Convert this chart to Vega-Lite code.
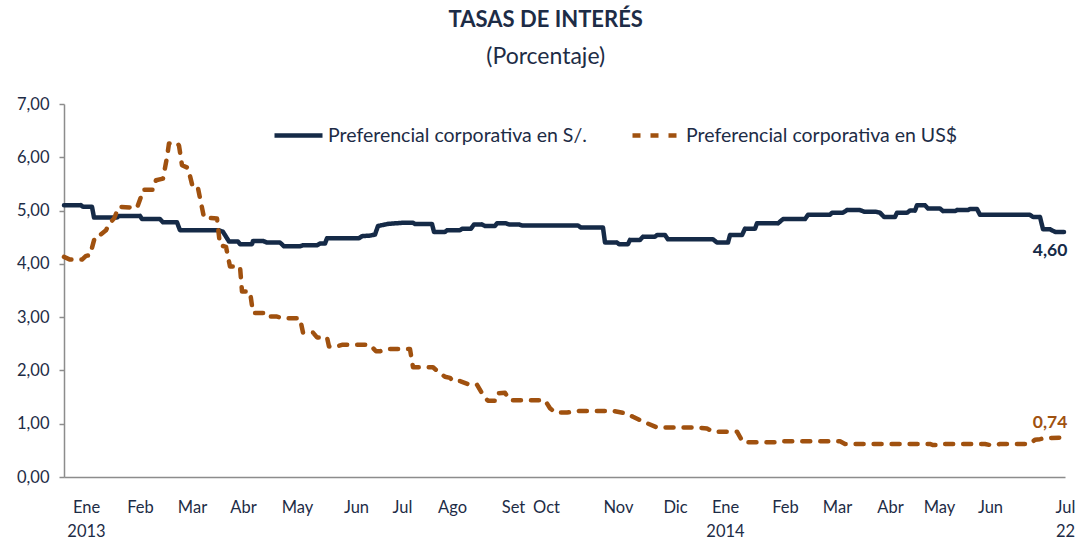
{
  "$schema": "https://vega.github.io/schema/vega-lite/v6.json",
  "width": 1001,
  "height": 373,
  "autosize": {"type": "none"},
  "padding": {"left": 64, "top": 104, "right": 16, "bottom": 65},
  "background": "white",
  "config": {
    "locale": {"number": {"decimal": ",", "thousands": ".", "grouping": [3], "currency": ["", ""]}},
    "font": "Lato",
    "view": {"stroke": null}
  },
  "title": {
    "text": "TASAS DE INTERÉS",
    "subtitle": "(Porcentaje)",
    "anchor": "middle",
    "frame": "bounds",
    "fontSize": 22,
    "fontWeight": "bold",
    "color": "#1d2c46",
    "subtitleFontSize": 23,
    "subtitleColor": "#1d2c46",
    "subtitlePadding": 14,
    "offset": 26
  },
  "datasets": {
    "tasas": [
      {"t": 0, "serie": "Preferencial corporativa en S/.", "tasa": 5.10},
      {"t": 1.7, "serie": "Preferencial corporativa en S/.", "tasa": 5.10},
      {"t": 1.9, "serie": "Preferencial corporativa en S/.", "tasa": 5.07},
      {"t": 2.8, "serie": "Preferencial corporativa en S/.", "tasa": 5.07},
      {"t": 3.0, "serie": "Preferencial corporativa en S/.", "tasa": 4.87},
      {"t": 5.3, "serie": "Preferencial corporativa en S/.", "tasa": 4.87},
      {"t": 5.5, "serie": "Preferencial corporativa en S/.", "tasa": 4.90},
      {"t": 7.6, "serie": "Preferencial corporativa en S/.", "tasa": 4.90},
      {"t": 7.8, "serie": "Preferencial corporativa en S/.", "tasa": 4.84},
      {"t": 9.6, "serie": "Preferencial corporativa en S/.", "tasa": 4.84},
      {"t": 9.9, "serie": "Preferencial corporativa en S/.", "tasa": 4.78},
      {"t": 11.3, "serie": "Preferencial corporativa en S/.", "tasa": 4.78},
      {"t": 11.6, "serie": "Preferencial corporativa en S/.", "tasa": 4.63},
      {"t": 15.5, "serie": "Preferencial corporativa en S/.", "tasa": 4.63},
      {"t": 15.9, "serie": "Preferencial corporativa en S/.", "tasa": 4.60},
      {"t": 16.5, "serie": "Preferencial corporativa en S/.", "tasa": 4.42},
      {"t": 17.4, "serie": "Preferencial corporativa en S/.", "tasa": 4.42},
      {"t": 17.6, "serie": "Preferencial corporativa en S/.", "tasa": 4.37},
      {"t": 18.8, "serie": "Preferencial corporativa en S/.", "tasa": 4.37},
      {"t": 18.9, "serie": "Preferencial corporativa en S/.", "tasa": 4.43},
      {"t": 19.9, "serie": "Preferencial corporativa en S/.", "tasa": 4.43},
      {"t": 20.3, "serie": "Preferencial corporativa en S/.", "tasa": 4.40},
      {"t": 21.6, "serie": "Preferencial corporativa en S/.", "tasa": 4.40},
      {"t": 22.0, "serie": "Preferencial corporativa en S/.", "tasa": 4.33},
      {"t": 23.6, "serie": "Preferencial corporativa en S/.", "tasa": 4.33},
      {"t": 23.9, "serie": "Preferencial corporativa en S/.", "tasa": 4.35},
      {"t": 25.3, "serie": "Preferencial corporativa en S/.", "tasa": 4.35},
      {"t": 25.6, "serie": "Preferencial corporativa en S/.", "tasa": 4.38},
      {"t": 26.1, "serie": "Preferencial corporativa en S/.", "tasa": 4.38},
      {"t": 26.3, "serie": "Preferencial corporativa en S/.", "tasa": 4.48},
      {"t": 29.5, "serie": "Preferencial corporativa en S/.", "tasa": 4.48},
      {"t": 29.8, "serie": "Preferencial corporativa en S/.", "tasa": 4.52},
      {"t": 30.6, "serie": "Preferencial corporativa en S/.", "tasa": 4.53},
      {"t": 31.1, "serie": "Preferencial corporativa en S/.", "tasa": 4.55},
      {"t": 31.4, "serie": "Preferencial corporativa en S/.", "tasa": 4.71},
      {"t": 32.4, "serie": "Preferencial corporativa en S/.", "tasa": 4.75},
      {"t": 33.8, "serie": "Preferencial corporativa en S/.", "tasa": 4.77},
      {"t": 34.9, "serie": "Preferencial corporativa en S/.", "tasa": 4.77},
      {"t": 35.1, "serie": "Preferencial corporativa en S/.", "tasa": 4.75},
      {"t": 36.8, "serie": "Preferencial corporativa en S/.", "tasa": 4.75},
      {"t": 37.0, "serie": "Preferencial corporativa en S/.", "tasa": 4.60},
      {"t": 38.1, "serie": "Preferencial corporativa en S/.", "tasa": 4.60},
      {"t": 38.3, "serie": "Preferencial corporativa en S/.", "tasa": 4.63},
      {"t": 39.6, "serie": "Preferencial corporativa en S/.", "tasa": 4.63},
      {"t": 39.8, "serie": "Preferencial corporativa en S/.", "tasa": 4.66},
      {"t": 40.7, "serie": "Preferencial corporativa en S/.", "tasa": 4.66},
      {"t": 41.0, "serie": "Preferencial corporativa en S/.", "tasa": 4.74},
      {"t": 41.8, "serie": "Preferencial corporativa en S/.", "tasa": 4.74},
      {"t": 42.1, "serie": "Preferencial corporativa en S/.", "tasa": 4.71},
      {"t": 43.1, "serie": "Preferencial corporativa en S/.", "tasa": 4.71},
      {"t": 43.3, "serie": "Preferencial corporativa en S/.", "tasa": 4.76},
      {"t": 44.2, "serie": "Preferencial corporativa en S/.", "tasa": 4.76},
      {"t": 44.5, "serie": "Preferencial corporativa en S/.", "tasa": 4.74},
      {"t": 45.5, "serie": "Preferencial corporativa en S/.", "tasa": 4.74},
      {"t": 45.8, "serie": "Preferencial corporativa en S/.", "tasa": 4.72},
      {"t": 51.4, "serie": "Preferencial corporativa en S/.", "tasa": 4.72},
      {"t": 51.7, "serie": "Preferencial corporativa en S/.", "tasa": 4.68},
      {"t": 53.9, "serie": "Preferencial corporativa en S/.", "tasa": 4.68},
      {"t": 54.1, "serie": "Preferencial corporativa en S/.", "tasa": 4.40},
      {"t": 55.3, "serie": "Preferencial corporativa en S/.", "tasa": 4.40},
      {"t": 55.5, "serie": "Preferencial corporativa en S/.", "tasa": 4.37},
      {"t": 56.4, "serie": "Preferencial corporativa en S/.", "tasa": 4.37},
      {"t": 56.6, "serie": "Preferencial corporativa en S/.", "tasa": 4.45},
      {"t": 57.6, "serie": "Preferencial corporativa en S/.", "tasa": 4.45},
      {"t": 57.9, "serie": "Preferencial corporativa en S/.", "tasa": 4.51},
      {"t": 59.1, "serie": "Preferencial corporativa en S/.", "tasa": 4.51},
      {"t": 59.3, "serie": "Preferencial corporativa en S/.", "tasa": 4.54},
      {"t": 60.1, "serie": "Preferencial corporativa en S/.", "tasa": 4.54},
      {"t": 60.4, "serie": "Preferencial corporativa en S/.", "tasa": 4.46},
      {"t": 64.9, "serie": "Preferencial corporativa en S/.", "tasa": 4.46},
      {"t": 65.3, "serie": "Preferencial corporativa en S/.", "tasa": 4.40},
      {"t": 66.4, "serie": "Preferencial corporativa en S/.", "tasa": 4.40},
      {"t": 66.6, "serie": "Preferencial corporativa en S/.", "tasa": 4.54},
      {"t": 67.8, "serie": "Preferencial corporativa en S/.", "tasa": 4.54},
      {"t": 68.1, "serie": "Preferencial corporativa en S/.", "tasa": 4.66},
      {"t": 69.1, "serie": "Preferencial corporativa en S/.", "tasa": 4.66},
      {"t": 69.3, "serie": "Preferencial corporativa en S/.", "tasa": 4.76},
      {"t": 71.4, "serie": "Preferencial corporativa en S/.", "tasa": 4.76},
      {"t": 71.9, "serie": "Preferencial corporativa en S/.", "tasa": 4.84},
      {"t": 74.1, "serie": "Preferencial corporativa en S/.", "tasa": 4.84},
      {"t": 74.4, "serie": "Preferencial corporativa en S/.", "tasa": 4.92},
      {"t": 76.6, "serie": "Preferencial corporativa en S/.", "tasa": 4.92},
      {"t": 76.8, "serie": "Preferencial corporativa en S/.", "tasa": 4.96},
      {"t": 77.9, "serie": "Preferencial corporativa en S/.", "tasa": 4.96},
      {"t": 78.3, "serie": "Preferencial corporativa en S/.", "tasa": 5.01},
      {"t": 79.6, "serie": "Preferencial corporativa en S/.", "tasa": 5.01},
      {"t": 80.0, "serie": "Preferencial corporativa en S/.", "tasa": 4.98},
      {"t": 81.1, "serie": "Preferencial corporativa en S/.", "tasa": 4.98},
      {"t": 81.6, "serie": "Preferencial corporativa en S/.", "tasa": 4.96},
      {"t": 82.0, "serie": "Preferencial corporativa en S/.", "tasa": 4.88},
      {"t": 83.1, "serie": "Preferencial corporativa en S/.", "tasa": 4.88},
      {"t": 83.3, "serie": "Preferencial corporativa en S/.", "tasa": 4.96},
      {"t": 84.3, "serie": "Preferencial corporativa en S/.", "tasa": 4.96},
      {"t": 84.6, "serie": "Preferencial corporativa en S/.", "tasa": 5.00},
      {"t": 85.1, "serie": "Preferencial corporativa en S/.", "tasa": 5.00},
      {"t": 85.3, "serie": "Preferencial corporativa en S/.", "tasa": 5.10},
      {"t": 86.1, "serie": "Preferencial corporativa en S/.", "tasa": 5.10},
      {"t": 86.4, "serie": "Preferencial corporativa en S/.", "tasa": 5.04},
      {"t": 87.6, "serie": "Preferencial corporativa en S/.", "tasa": 5.04},
      {"t": 87.9, "serie": "Preferencial corporativa en S/.", "tasa": 4.99},
      {"t": 89.1, "serie": "Preferencial corporativa en S/.", "tasa": 4.99},
      {"t": 89.3, "serie": "Preferencial corporativa en S/.", "tasa": 5.01},
      {"t": 90.4, "serie": "Preferencial corporativa en S/.", "tasa": 5.01},
      {"t": 90.6, "serie": "Preferencial corporativa en S/.", "tasa": 5.03},
      {"t": 91.3, "serie": "Preferencial corporativa en S/.", "tasa": 5.03},
      {"t": 91.6, "serie": "Preferencial corporativa en S/.", "tasa": 4.92},
      {"t": 96.6, "serie": "Preferencial corporativa en S/.", "tasa": 4.92},
      {"t": 96.9, "serie": "Preferencial corporativa en S/.", "tasa": 4.88},
      {"t": 97.6, "serie": "Preferencial corporativa en S/.", "tasa": 4.88},
      {"t": 97.9, "serie": "Preferencial corporativa en S/.", "tasa": 4.65},
      {"t": 98.6, "serie": "Preferencial corporativa en S/.", "tasa": 4.65},
      {"t": 99.1, "serie": "Preferencial corporativa en S/.", "tasa": 4.60},
      {"t": 100, "serie": "Preferencial corporativa en S/.", "tasa": 4.60},

      {"t": 0, "serie": "Preferencial corporativa en US$", "tasa": 4.13},
      {"t": 0.6, "serie": "Preferencial corporativa en US$", "tasa": 4.08},
      {"t": 1.8, "serie": "Preferencial corporativa en US$", "tasa": 4.08},
      {"t": 2.2, "serie": "Preferencial corporativa en US$", "tasa": 4.15},
      {"t": 2.6, "serie": "Preferencial corporativa en US$", "tasa": 4.16},
      {"t": 3.1, "serie": "Preferencial corporativa en US$", "tasa": 4.51},
      {"t": 3.6, "serie": "Preferencial corporativa en US$", "tasa": 4.54},
      {"t": 4.2, "serie": "Preferencial corporativa en US$", "tasa": 4.63},
      {"t": 4.5, "serie": "Preferencial corporativa en US$", "tasa": 4.75},
      {"t": 5.0, "serie": "Preferencial corporativa en US$", "tasa": 4.85},
      {"t": 5.5, "serie": "Preferencial corporativa en US$", "tasa": 5.07},
      {"t": 7.3, "serie": "Preferencial corporativa en US$", "tasa": 5.05},
      {"t": 7.7, "serie": "Preferencial corporativa en US$", "tasa": 5.26},
      {"t": 7.9, "serie": "Preferencial corporativa en US$", "tasa": 5.39},
      {"t": 8.9, "serie": "Preferencial corporativa en US$", "tasa": 5.39},
      {"t": 9.2, "serie": "Preferencial corporativa en US$", "tasa": 5.57},
      {"t": 9.9, "serie": "Preferencial corporativa en US$", "tasa": 5.60},
      {"t": 10.3, "serie": "Preferencial corporativa en US$", "tasa": 6.00},
      {"t": 10.5, "serie": "Preferencial corporativa en US$", "tasa": 6.26},
      {"t": 11.3, "serie": "Preferencial corporativa en US$", "tasa": 6.27},
      {"t": 11.5, "serie": "Preferencial corporativa en US$", "tasa": 6.22},
      {"t": 11.8, "serie": "Preferencial corporativa en US$", "tasa": 5.85},
      {"t": 12.4, "serie": "Preferencial corporativa en US$", "tasa": 5.80},
      {"t": 12.9, "serie": "Preferencial corporativa en US$", "tasa": 5.42},
      {"t": 13.4, "serie": "Preferencial corporativa en US$", "tasa": 5.42},
      {"t": 14.0, "serie": "Preferencial corporativa en US$", "tasa": 4.87},
      {"t": 15.3, "serie": "Preferencial corporativa en US$", "tasa": 4.85},
      {"t": 15.6, "serie": "Preferencial corporativa en US$", "tasa": 4.35},
      {"t": 16.2, "serie": "Preferencial corporativa en US$", "tasa": 4.32},
      {"t": 16.6, "serie": "Preferencial corporativa en US$", "tasa": 3.95},
      {"t": 17.6, "serie": "Preferencial corporativa en US$", "tasa": 3.95},
      {"t": 17.8, "serie": "Preferencial corporativa en US$", "tasa": 3.48},
      {"t": 18.6, "serie": "Preferencial corporativa en US$", "tasa": 3.48},
      {"t": 18.9, "serie": "Preferencial corporativa en US$", "tasa": 3.08},
      {"t": 20.1, "serie": "Preferencial corporativa en US$", "tasa": 3.08},
      {"t": 20.3, "serie": "Preferencial corporativa en US$", "tasa": 3.01},
      {"t": 21.3, "serie": "Preferencial corporativa en US$", "tasa": 3.01},
      {"t": 21.9, "serie": "Preferencial corporativa en US$", "tasa": 2.98},
      {"t": 23.6, "serie": "Preferencial corporativa en US$", "tasa": 2.98},
      {"t": 23.9, "serie": "Preferencial corporativa en US$", "tasa": 2.71},
      {"t": 24.9, "serie": "Preferencial corporativa en US$", "tasa": 2.71},
      {"t": 25.3, "serie": "Preferencial corporativa en US$", "tasa": 2.62},
      {"t": 26.3, "serie": "Preferencial corporativa en US$", "tasa": 2.62},
      {"t": 26.5, "serie": "Preferencial corporativa en US$", "tasa": 2.45},
      {"t": 27.3, "serie": "Preferencial corporativa en US$", "tasa": 2.45},
      {"t": 27.8, "serie": "Preferencial corporativa en US$", "tasa": 2.48},
      {"t": 30.6, "serie": "Preferencial corporativa en US$", "tasa": 2.48},
      {"t": 31.2, "serie": "Preferencial corporativa en US$", "tasa": 2.36},
      {"t": 31.6, "serie": "Preferencial corporativa en US$", "tasa": 2.36},
      {"t": 32.3, "serie": "Preferencial corporativa en US$", "tasa": 2.40},
      {"t": 34.6, "serie": "Preferencial corporativa en US$", "tasa": 2.40},
      {"t": 34.9, "serie": "Preferencial corporativa en US$", "tasa": 2.06},
      {"t": 36.9, "serie": "Preferencial corporativa en US$", "tasa": 2.06},
      {"t": 37.2, "serie": "Preferencial corporativa en US$", "tasa": 2.01},
      {"t": 38.1, "serie": "Preferencial corporativa en US$", "tasa": 1.88},
      {"t": 38.6, "serie": "Preferencial corporativa en US$", "tasa": 1.86},
      {"t": 38.9, "serie": "Preferencial corporativa en US$", "tasa": 1.80},
      {"t": 39.6, "serie": "Preferencial corporativa en US$", "tasa": 1.80},
      {"t": 40.6, "serie": "Preferencial corporativa en US$", "tasa": 1.73},
      {"t": 41.3, "serie": "Preferencial corporativa en US$", "tasa": 1.73},
      {"t": 42.0, "serie": "Preferencial corporativa en US$", "tasa": 1.51},
      {"t": 42.4, "serie": "Preferencial corporativa en US$", "tasa": 1.43},
      {"t": 43.1, "serie": "Preferencial corporativa en US$", "tasa": 1.43},
      {"t": 43.3, "serie": "Preferencial corporativa en US$", "tasa": 1.57},
      {"t": 44.1, "serie": "Preferencial corporativa en US$", "tasa": 1.58},
      {"t": 44.6, "serie": "Preferencial corporativa en US$", "tasa": 1.44},
      {"t": 48.1, "serie": "Preferencial corporativa en US$", "tasa": 1.44},
      {"t": 48.6, "serie": "Preferencial corporativa en US$", "tasa": 1.29},
      {"t": 49.1, "serie": "Preferencial corporativa en US$", "tasa": 1.21},
      {"t": 50.3, "serie": "Preferencial corporativa en US$", "tasa": 1.21},
      {"t": 51.6, "serie": "Preferencial corporativa en US$", "tasa": 1.24},
      {"t": 54.9, "serie": "Preferencial corporativa en US$", "tasa": 1.24},
      {"t": 56.3, "serie": "Preferencial corporativa en US$", "tasa": 1.19},
      {"t": 56.9, "serie": "Preferencial corporativa en US$", "tasa": 1.13},
      {"t": 57.9, "serie": "Preferencial corporativa en US$", "tasa": 1.04},
      {"t": 59.3, "serie": "Preferencial corporativa en US$", "tasa": 0.93},
      {"t": 63.3, "serie": "Preferencial corporativa en US$", "tasa": 0.93},
      {"t": 64.3, "serie": "Preferencial corporativa en US$", "tasa": 0.91},
      {"t": 64.9, "serie": "Preferencial corporativa en US$", "tasa": 0.85},
      {"t": 67.3, "serie": "Preferencial corporativa en US$", "tasa": 0.85},
      {"t": 67.9, "serie": "Preferencial corporativa en US$", "tasa": 0.65},
      {"t": 71.3, "serie": "Preferencial corporativa en US$", "tasa": 0.65},
      {"t": 71.6, "serie": "Preferencial corporativa en US$", "tasa": 0.67},
      {"t": 77.6, "serie": "Preferencial corporativa en US$", "tasa": 0.67},
      {"t": 78.1, "serie": "Preferencial corporativa en US$", "tasa": 0.62},
      {"t": 86.6, "serie": "Preferencial corporativa en US$", "tasa": 0.62},
      {"t": 86.9, "serie": "Preferencial corporativa en US$", "tasa": 0.60},
      {"t": 87.4, "serie": "Preferencial corporativa en US$", "tasa": 0.60},
      {"t": 87.6, "serie": "Preferencial corporativa en US$", "tasa": 0.62},
      {"t": 92.1, "serie": "Preferencial corporativa en US$", "tasa": 0.62},
      {"t": 92.6, "serie": "Preferencial corporativa en US$", "tasa": 0.60},
      {"t": 93.1, "serie": "Preferencial corporativa en US$", "tasa": 0.60},
      {"t": 93.6, "serie": "Preferencial corporativa en US$", "tasa": 0.62},
      {"t": 96.6, "serie": "Preferencial corporativa en US$", "tasa": 0.62},
      {"t": 97.1, "serie": "Preferencial corporativa en US$", "tasa": 0.70},
      {"t": 97.6, "serie": "Preferencial corporativa en US$", "tasa": 0.71},
      {"t": 98.1, "serie": "Preferencial corporativa en US$", "tasa": 0.73},
      {"t": 100, "serie": "Preferencial corporativa en US$", "tasa": 0.74}
    ]
  },
  "data": {"name": "tasas"},
  "encoding": {
    "x": {
      "field": "t",
      "type": "quantitative",
      "scale": {"domain": [0, 100.1], "nice": false, "zero": false},
      "axis": {
        "title": null,
        "grid": false,
        "ticks": false,
        "values": [2.2, 7.6, 12.8, 17.9, 23.3, 29.2, 33.8, 38.8, 44.9, 48.2, 55.4, 61.1, 66.1, 72.1, 77.3, 82.6, 87.5, 92.6, 100.1],
        "labelExpr": "[['Ene','2013'],'Feb','Mar','Abr','May','Jun','Jul','Ago','Set','Oct','Nov','Dic',['Ene','2014'],'Feb','Mar','Abr','May','Jun',['Jul','22']][indexof([2.2, 7.6, 12.8, 17.9, 23.3, 29.2, 33.8, 38.8, 44.9, 48.2, 55.4, 61.1, 66.1, 72.1, 77.3, 82.6, 87.5, 92.6, 100.1], datum.value)]",
        "labelOverlap": false,
        "labelBound": false,
        "labelFlush": false,
        "labelPadding": 22,
        "labelFontSize": 16.5,
        "labelLineHeight": 24,
        "labelColor": "#1d2c46",
        "domainColor": "#8c8c8c",
        "domainWidth": 1.5
      }
    },
    "y": {
      "field": "tasa",
      "type": "quantitative",
      "scale": {"domain": [0, 7], "nice": false},
      "axis": {
        "title": null,
        "grid": false,
        "values": [0, 1, 2, 3, 4, 5, 6, 7],
        "format": ".2f",
        "tickSize": 5,
        "tickColor": "#8c8c8c",
        "tickWidth": 1.5,
        "domainColor": "#8c8c8c",
        "domainWidth": 1.5,
        "labelFontSize": 16.5,
        "labelPadding": 10,
        "labelColor": "#1d2c46"
      }
    }
  },
  "layer": [
    {
      "mark": {"type": "line", "strokeWidth": 4.5, "strokeCap": "round", "strokeJoin": "round"},
      "encoding": {
        "color": {
          "field": "serie",
          "type": "nominal",
          "scale": {"domain": ["Preferencial corporativa en S/.", "Preferencial corporativa en US$"], "range": ["#152a47", "#a0510f"]},
          "legend": {
            "title": null,
            "orient": "none",
            "legendX": 208,
            "legendY": 5,
            "direction": "horizontal",
            "symbolType": "stroke",
            "symbolSize": 2304,
            "symbolStrokeWidth": 4.5,
            "labelFontSize": 19.5,
            "labelColor": "#1d2c46",
            "labelOffset": 3,
            "columnPadding": 36,
            "labelLimit": 400
          }
        },
        "strokeDash": {
          "field": "serie",
          "type": "nominal",
          "scale": {"domain": ["Preferencial corporativa en S/.", "Preferencial corporativa en US$"], "range": [[1, 0], [8, 10]]},
          "legend": {
            "title": null,
            "orient": "none",
            "legendX": 208,
            "legendY": 5,
            "direction": "horizontal",
            "symbolType": "stroke",
            "symbolSize": 2304,
            "symbolStrokeWidth": 4.5,
            "labelFontSize": 19.5,
            "labelColor": "#1d2c46",
            "labelOffset": 3,
            "columnPadding": 36,
            "labelLimit": 400
          }
        }
      }
    },
    {
      "transform": [{"filter": "datum.t == 100 && datum.serie == 'Preferencial corporativa en S/.'"}],
      "mark": {"type": "text", "fontWeight": "bold", "fontSize": 17.5, "dx": -14, "dy": 19, "color": "#152a47"},
      "encoding": {"text": {"field": "tasa", "type": "quantitative", "format": ".2f"}}
    },
    {
      "transform": [{"filter": "datum.t == 100 && datum.serie == 'Preferencial corporativa en US$'"}],
      "mark": {"type": "text", "fontWeight": "bold", "fontSize": 17.5, "dx": -14, "dy": -15, "color": "#a0510f"},
      "encoding": {"text": {"field": "tasa", "type": "quantitative", "format": ".2f"}}
    }
  ]
}
